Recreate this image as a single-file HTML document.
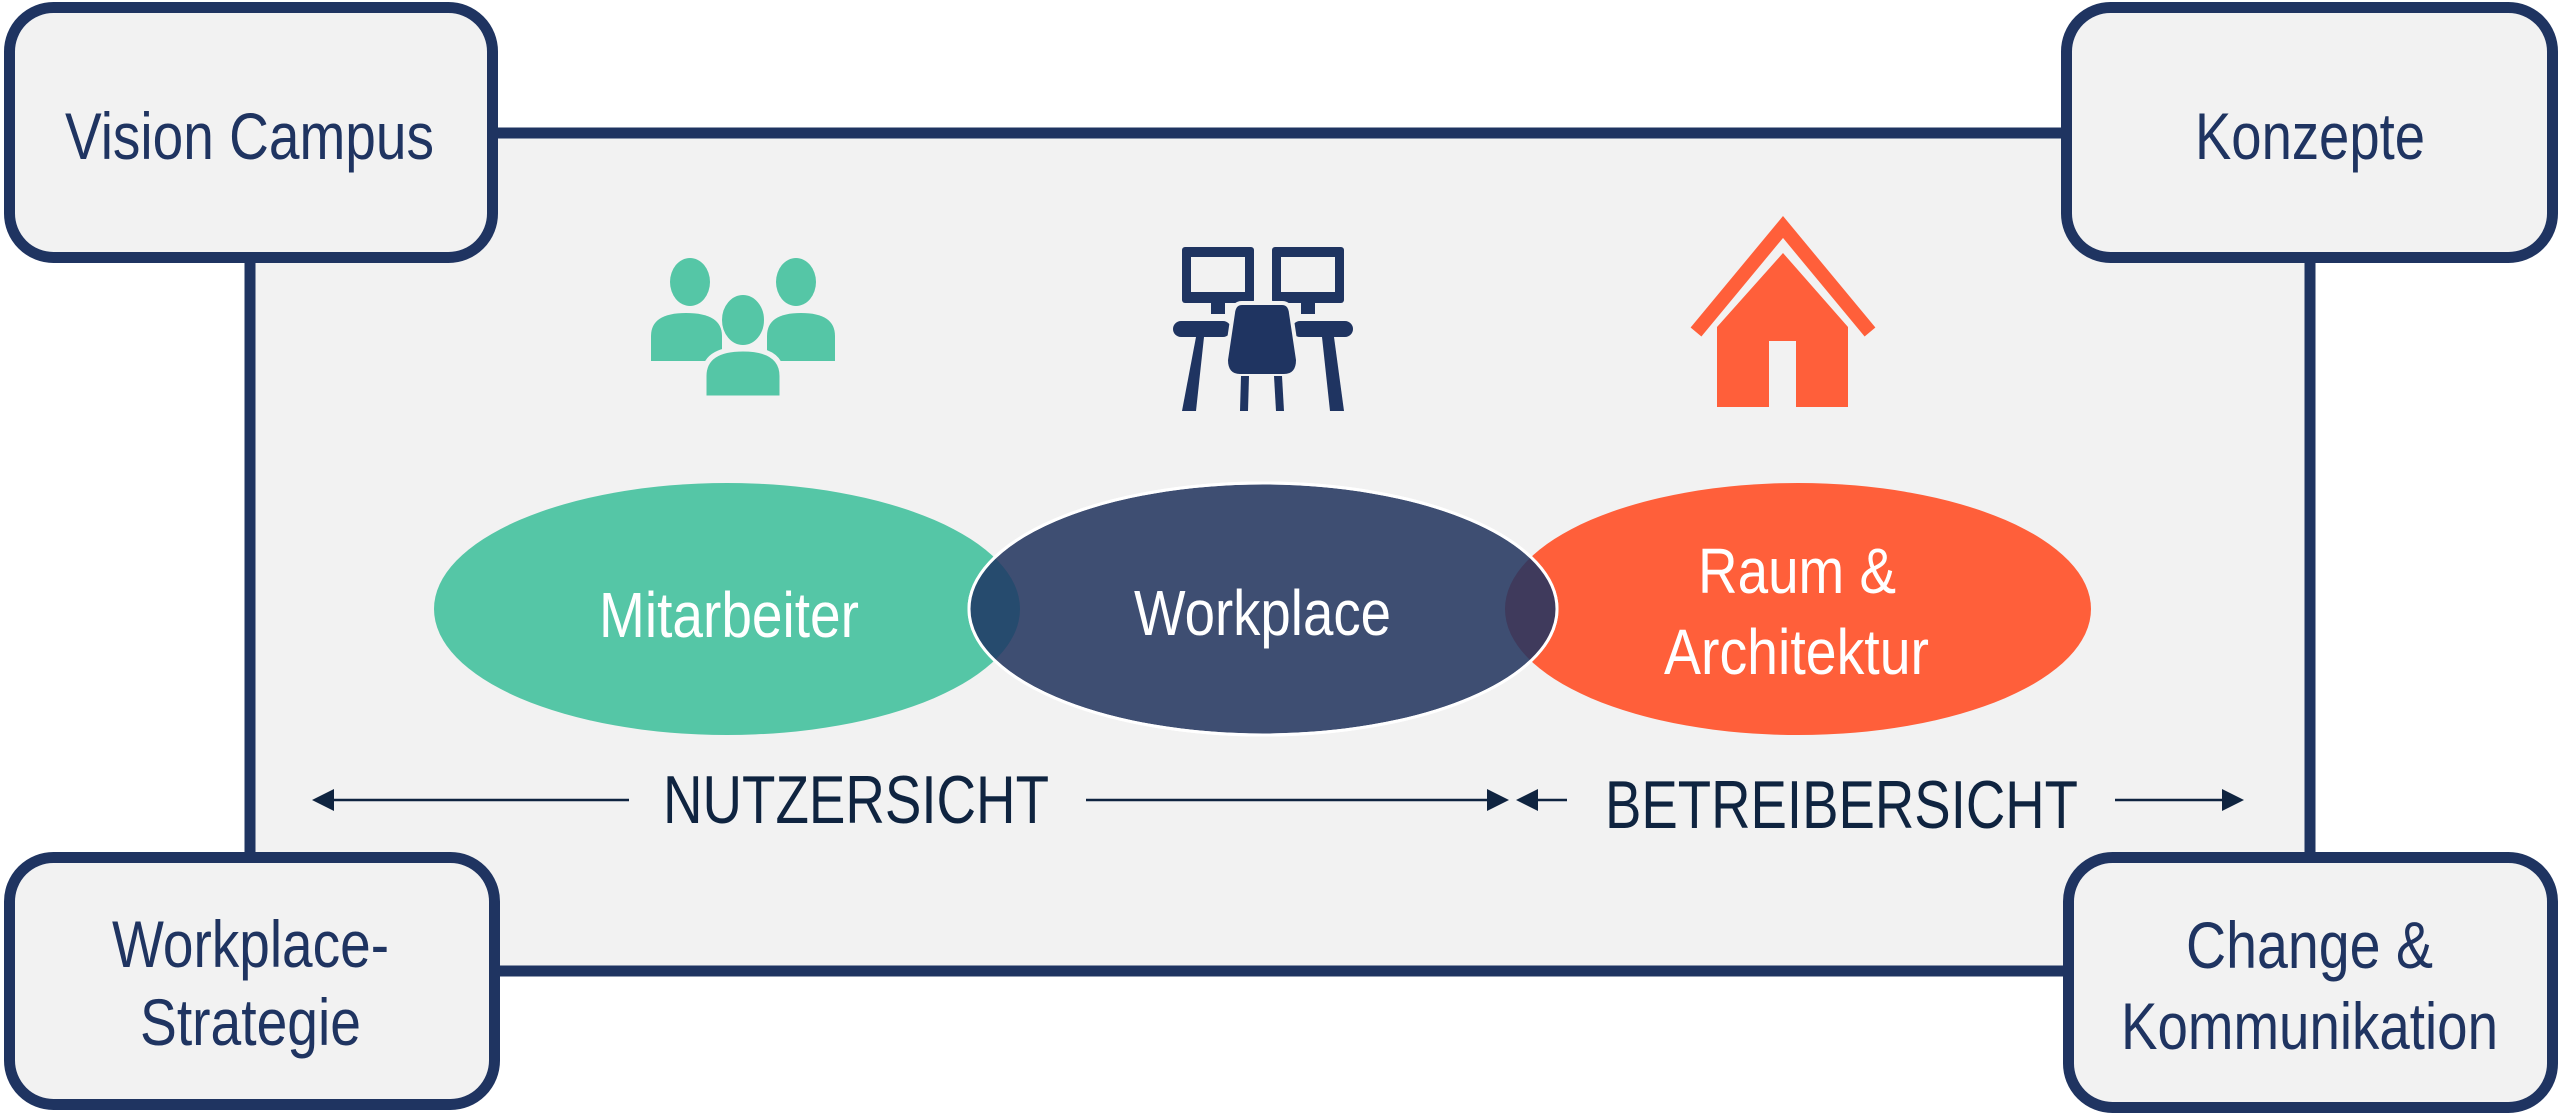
<!DOCTYPE html>
<html><head><meta charset="utf-8"><style>
html,body{margin:0;padding:0;background:#fff;}
svg{display:block;}
text{font-family:"Liberation Sans",Arial,sans-serif;}
</style></head><body>
<svg width="2560" height="1116" viewBox="0 0 2560 1116" xmlns="http://www.w3.org/2000/svg">
<defs>
<clipPath id="cw"><ellipse cx="1263" cy="609" rx="294" ry="126"/></clipPath>
</defs>
<rect x="250" y="133" width="2060" height="838" fill="#F2F2F2" stroke="#1F3461" stroke-width="11"/>
<g fill="#F2F2F2" stroke="#1F3461" stroke-width="11">
<rect x="9.5" y="7.5" width="483" height="250" rx="44"/>
<rect x="2066.5" y="7.5" width="486" height="250" rx="44"/>
<rect x="9.5" y="857.5" width="485" height="247" rx="44"/>
<rect x="2068.5" y="857.5" width="484" height="250" rx="44"/>
</g>
<g fill="#1F3461" font-size="66">
<text x="65" y="159" textLength="369" lengthAdjust="spacingAndGlyphs">Vision Campus</text>
<text x="2195" y="159" textLength="230" lengthAdjust="spacingAndGlyphs">Konzepte</text>
<text x="112" y="967" textLength="277" lengthAdjust="spacingAndGlyphs">Workplace-</text>
<text x="140" y="1045" textLength="221" lengthAdjust="spacingAndGlyphs">Strategie</text>
<text x="2186" y="968" textLength="247" lengthAdjust="spacingAndGlyphs">Change &amp;</text>
<text x="2121" y="1049" textLength="377" lengthAdjust="spacingAndGlyphs">Kommunikation</text>
</g>
<ellipse cx="727" cy="609" rx="293" ry="126" fill="#55C6A6"/>
<ellipse cx="1798" cy="609" rx="293" ry="126" fill="#FF5F3A"/>
<ellipse cx="1263" cy="609" rx="294" ry="126" fill="#3E4E72" stroke="#fff" stroke-width="3"/>
<g clip-path="url(#cw)">
<ellipse cx="727" cy="609" rx="293" ry="126" fill="#264B6E"/>
<ellipse cx="1798" cy="609" rx="293" ry="126" fill="#3F3A5C"/>
</g>
<ellipse cx="1263" cy="609" rx="294" ry="126" fill="none" stroke="#fff" stroke-width="3"/>
<g fill="#fff" font-size="64">
<text x="599" y="637" textLength="260" lengthAdjust="spacingAndGlyphs">Mitarbeiter</text>
<text x="1134" y="635" textLength="257" lengthAdjust="spacingAndGlyphs">Workplace</text>
<text x="1698" y="593" textLength="198" lengthAdjust="spacingAndGlyphs">Raum &amp;</text>
<text x="1664" y="674" textLength="265" lengthAdjust="spacingAndGlyphs">Architektur</text>
</g>
<g stroke="#0F2440" stroke-width="2.5">
<line x1="325" y1="800" x2="629" y2="800"/>
<line x1="1086" y1="800" x2="1492" y2="800"/>
<line x1="1532" y1="800" x2="1567" y2="800"/>
<line x1="2115" y1="800" x2="2228" y2="800"/>
</g>
<g fill="#0F2440">
<polygon points="312,800 334,789 334,811"/>
<polygon points="1509,800 1487,789 1487,811"/>
<polygon points="1516,800 1538,789 1538,811"/>
<polygon points="2244,800 2222,789 2222,811"/>
</g>
<g fill="#0F2440" font-size="68">
<text x="663" y="823" textLength="386" lengthAdjust="spacingAndGlyphs">NUTZERSICHT</text>
<text x="1605" y="828" textLength="473" lengthAdjust="spacingAndGlyphs">BETREIBERSICHT</text>
</g>
<g fill="#55C6A6">
<ellipse cx="690" cy="282" rx="20" ry="24"/>
<ellipse cx="796" cy="282" rx="20" ry="24"/>
<path d="M651 361 V336 Q651 313 686 313 Q722 313 722 336 V361 Z"/>
<path d="M767 361 V336 Q767 313 801 313 Q835 313 835 336 V361 Z"/>
<path d="M704 398 V376 Q704 349 743 349 Q782 349 782 376 V398 Z" stroke="#F2F2F2" stroke-width="5"/>
<ellipse cx="743" cy="320" rx="22" ry="26" stroke="#F2F2F2" stroke-width="2"/>
</g>
<g fill="#1F3461">
<rect x="1182" y="247" width="72" height="56" rx="3"/>
<rect x="1272" y="247" width="72" height="56" rx="3"/>
<rect x="1211" y="300" width="14" height="14"/>
<rect x="1301" y="300" width="14" height="14"/>
<rect x="1173" y="321" width="58" height="16" rx="8"/>
<rect x="1292" y="321" width="61" height="16" rx="8"/>
<polygon points="1196,337 1204,337 1196,411 1182,411"/>
<polygon points="1322,337 1334,337 1344,411 1330,411"/>
<path d="M1242 303 H1282 Q1290 303 1291 313 L1298 360 Q1298 376 1284 376 H1240 Q1226 376 1226 360 L1233 313 Q1234 303 1242 303 Z" stroke="#F2F2F2" stroke-width="4"/>
<polygon points="1241,376 1249,376 1248,411 1240,411"/>
<polygon points="1274,376 1282,376 1284,411 1276,411"/>
</g>
<g fill="#F2F2F2">
<rect x="1191" y="257" width="54" height="35"/>
<rect x="1281" y="257" width="54" height="35"/>
</g>
<polyline points="1696,332 1783,227 1870,332" fill="none" stroke="#FF5F3A" stroke-width="14"/>
<path d="M1717 327 L1783 253 L1848 327 V407 H1796 V341 H1769 V407 H1717 Z" fill="#FF5F3A"/>
</svg>
</body></html>
